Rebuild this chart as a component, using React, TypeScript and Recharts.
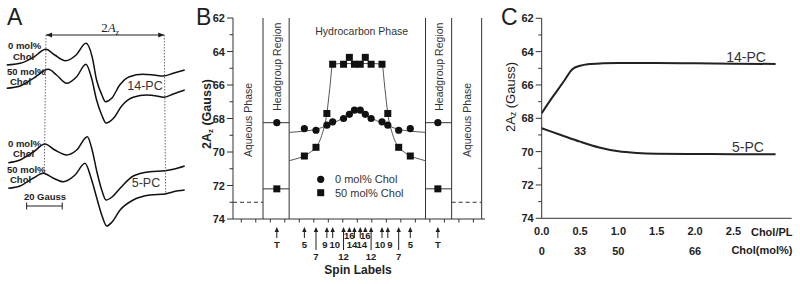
import React from "react";
import { ComposedChart, LineChart, Line, Scatter, XAxis, YAxis, ReferenceLine, ReferenceDot } from "recharts";

// ---------- Panel A: EPR spectra (field in Gauss, amplitude in a.u.) ----------
const field14_0 = [0, 7.5, 15, 22, 27, 33, 39, 44.5, 48, 50.5, 53.5, 55.5, 59, 63.5, 69, 76.5, 82.5, 88, 93.5, 100];
const amp14_0 = [0, 1.7, 7.7, 15.7, 10, 4.3, 10, 21.7, 8.3, -15, -30, -36.7, -33.3, -20, -11.7, -9.3, -10, -11, -8.3, -5];
const field14_50 = [0, 7.5, 15, 23.4, 28, 33.7, 39.3, 44.5, 47.7, 50.5, 53.4, 55.8, 60, 64.6, 71.1, 78.7, 84.3, 88, 93.6, 100];
const amp14_50 = [0, 2.3, 10, 19, 13.3, 5, 11.6, 24, 10, -11.7, -26.7, -34.7, -30, -17.7, -9, -6.7, -7.7, -9, -5.7, -1.7];
const field5_0 = [0.9, 7.5, 15, 21.5, 27, 33.7, 39.3, 45.3, 48, 50.7, 53.4, 55.8, 59.2, 63.7, 71.1, 80.5, 89, 93.6, 100];
const amp5_0 = [0, 2.7, 10.7, 18.7, 12.7, 7.7, 12.7, 26, 12.7, -9.3, -27.3, -37.3, -34.3, -25.6, -13.3, -9, -8, -6.6, -3.3];
const field5_50 = [0.9, 7.5, 15, 20.6, 26, 31.8, 38.4, 44, 47.4, 50.6, 53.4, 56.2, 59.2, 63.7, 71.1, 80.5, 89, 93.6, 100];
const amp5_50 = [0, 2.3, 10.3, 15, 10.3, 6.6, 13.3, 25, 10.3, -9.7, -26.7, -37.7, -33.7, -21.7, -11.7, -6.7, -5.7, -3.4, -1.7];
const splitting = [22.1, 88.5]; // 2Az read-out positions (G)
const scaleBar = [11.2, 31.2]; // 20 Gauss

// ---------- Panel B: 2Az vs spin label position ----------
const spinPos = [2.45, 4.35, 5.15, 5.9, 6.3, 7.05, 7.45, 7.8, 8.2, 8.55, 8.95, 9.7, 10.1, 10.85, 11.65, 13.55];
const spinNames = ["T", "5", "7", "9", "10", "12", "16", "14", "14", "16", "12", "10", "9", "7", "5", "T"];
const az0 = [68.25, 68.6, 68.7, 68.4, 68.2, 68.0, 67.75, 67.5, 67.5, 67.75, 68.0, 68.2, 68.4, 68.7, 68.6, 68.25];
const az50 = [72.2, 70.24, 69.72, 67.7, 64.76, 64.76, 64.35, 64.76, 64.76, 64.35, 64.76, 64.76, 67.7, 69.72, 70.24, 72.2];
const fitPos0 = [3.3, 4.35, 5.15, 5.9, 6.3, 7.05, 7.45, 7.8, 8.0, 8.2, 8.55, 8.95, 9.7, 10.1, 10.85, 11.65, 12.7];
const fitAz0 = [68.83, 68.75, 68.65, 68.42, 68.27, 67.97, 67.77, 67.6, 67.55, 67.6, 67.77, 67.97, 68.27, 68.42, 68.65, 68.75, 68.83];
const fitPos50 = [3.3, 4.0, 4.35, 4.75, 5.15, 5.55, 5.9, 6.1, 6.3, 7.0, 8.0, 9.0, 9.7, 9.9, 10.1, 10.45, 10.85, 11.25, 11.65, 12.0, 12.7];
const fitAz50 = [70.52, 70.35, 70.24, 70.02, 69.72, 69.0, 67.7, 66.2, 64.76, 64.72, 64.72, 64.72, 64.76, 66.2, 67.7, 69.0, 69.72, 70.02, 70.24, 70.35, 70.52];
const regionEdges = [1.5, 3.3, 12.7, 14.5, 16.57];
const aqueousAz = 73.0;
const posTicks = [0, 1, 2, 3, 4, 5, 6, 7, 8, 9, 10, 11, 12, 13, 14, 15, 16];
const azTicks = [62, 63, 64, 65, 66, 67, 68, 69, 70, 71, 72, 73, 74];

// ---------- Panel C: 2Az vs cholesterol ----------
const ratio14 = [0, 0.1, 0.2, 0.3, 0.4, 0.5, 0.6, 0.8, 1.0, 1.5, 2.0, 2.5, 3.05];
const az14 = [67.7, 67.0, 66.35, 65.7, 65.05, 64.85, 64.75, 64.7, 64.68, 64.68, 64.7, 64.72, 64.74];
const ratio5 = [0, 0.25, 0.5, 0.75, 1.0, 1.25, 1.5, 2.0, 2.5, 3.05];
const az5 = [68.6, 69.0, 69.4, 69.75, 69.98, 70.08, 70.12, 70.14, 70.15, 70.15];
const ratioTicks = [0, 0.5, 1, 1.5, 2, 2.5];
const molLabels = ["0", "33", "50", "", "66", ""];

// ---------- styles ----------
const FONT = "'Liberation Sans', Arial, sans-serif";
const INK = "#1e1e1e";
const STROKE = "#333";
const specOffset = [-65, -88.3, -162.7, -188.3];
const spinRow = { T: 1, "5": 1, "7": 2, "9": 1, "10": 1, "12": 2, "16": 0, "14": 1 } as Record<string, number>;
const spinLabelDx = [0, 0, 0, -2, 2, 0, 0, -2.5, 1.5, 0, 0, -2, 2, 0, 0, 0];
const B_DOMAIN: [number, number] = [-0.57, 16.8];

const pts = (xs: number[], ys: number[], off = 0) => xs.map((x, i) => ({ x, y: ys[i] + off }));

const AzTick = (props: any) => {
  const { x, y, payload } = props;
  const v = payload.value;
  const major = v % 2 === 0;
  return (
    <g>
      <line x1={x - (major ? 6 : 3.5)} x2={x} y1={y} y2={y} stroke={STROKE} />
      {major && (
        <text x={x - 8} y={y + 4} textAnchor="end" fontSize={11} fontWeight="bold" fill={INK} fontFamily={FONT}>
          {v}
        </text>
      )}
    </g>
  );
};

const PosTick = (props: any) => {
  const { x, y } = props;
  return <line x1={x} x2={x} y1={y} y2={y + 3.5} stroke={STROKE} />;
};

const SpinTick = (props: any) => {
  const { x, y, payload } = props;
  const i = spinPos.indexOf(payload.value);
  if (i < 0) return <g />;
  const name = spinNames[i];
  const row = spinRow[name];
  const shaft = [4.5, 11, 23][row];
  const base = [11.5, 21, 33][row];
  return (
    <g>
      <path d={`M${x},${y} L${x - 2.2},${y + 5} L${x + 2.2},${y + 5} Z`} fill={INK} />
      <line x1={x} x2={x} y1={y + 4} y2={y + shaft} stroke={INK} strokeWidth={1} />
      <text x={x + spinLabelDx[i]} y={y + base} textAnchor="middle" fontSize={9.5} fontWeight="bold" fill={INK} fontFamily={FONT}>
        {name}
      </text>
    </g>
  );
};

const RatioTick = (props: any) => {
  const { x, y, payload } = props;
  const i = ratioTicks.indexOf(payload.value);
  return (
    <g fontFamily={FONT} fontSize={11} fontWeight="bold" fill={INK}>
      <text x={x} y={y + 17} textAnchor="middle">{payload.value.toFixed(1)}</text>
      <text x={x} y={y + 37} textAnchor="middle">{i >= 0 ? molLabels[i] : ""}</text>
    </g>
  );
};

const ArrowHead = (dir: number) => (p: any) => (
  <path d={`M${p.cx},${p.cy} L${p.cx - dir * 6},${p.cy - 2.5} L${p.cx - dir * 6},${p.cy + 2.5} Z`} fill={INK} />
);

const PanelA = () => (
  <LineChart width={800} height={284} margin={{ top: 0, right: 610, bottom: 0, left: 0 }}>
    <XAxis type="number" dataKey="x" domain={[-3.76, 102.98]} hide />
    <YAxis type="number" dataKey="y" domain={[-284, 0]} hide />
    {[
      [field14_0, amp14_0],
      [field14_50, amp14_50],
      [field5_0, amp5_0],
      [field5_50, amp5_50],
    ].map(([f, a], k) => (
      <Line key={k} data={pts(f, a, specOffset[k])} dataKey="y" type="monotone" stroke="#111" strokeWidth={1.5} dot={false} isAnimationActive={false} />
    ))}
    <ReferenceLine segment={[{ x: splitting[0], y: -35 }, { x: splitting[0] - 1, y: -173 }]} stroke="#444" strokeDasharray="1.5 1.5" strokeWidth={0.8} />
    <ReferenceLine segment={[{ x: splitting[1], y: -35 }, { x: splitting[1] + 0.8, y: -195 }]} stroke="#444" strokeDasharray="1.5 1.5" strokeWidth={0.8} />
    <ReferenceLine segment={[{ x: splitting[0], y: -35 }, { x: splitting[1], y: -35 }]} stroke={INK} strokeWidth={1} />
    <ReferenceDot x={splitting[0]} y={-35} shape={ArrowHead(-1)} />
    <ReferenceDot x={splitting[1]} y={-35} shape={ArrowHead(1)} />
    <ReferenceLine segment={[{ x: scaleBar[0], y: -206 }, { x: scaleBar[1], y: -206 }]} stroke={INK} strokeWidth={1} />
    <ReferenceLine segment={[{ x: scaleBar[0], y: -202.5 }, { x: scaleBar[0], y: -209.5 }]} stroke={INK} strokeWidth={1} />
    <ReferenceLine segment={[{ x: scaleBar[1], y: -202.5 }, { x: scaleBar[1], y: -209.5 }]} stroke={INK} strokeWidth={1} />
  </LineChart>
);

const PanelB = () => (
  <ComposedChart width={800} height={284} margin={{ top: 18, right: 315, bottom: 17, left: 203 }}>
    <XAxis type="number" dataKey="x" domain={B_DOMAIN} ticks={posTicks} interval={0} tickLine={false} tickSize={0} tickMargin={0} tick={<PosTick />} height={8} stroke={STROKE} />
    <XAxis
      xAxisId="spin"
      type="number"
      dataKey="x"
      domain={B_DOMAIN}
      ticks={spinPos}
      interval={0}
      axisLine={false}
      tickLine={false}
      tickSize={0}
      tickMargin={0}
      height={40}
      tick={<SpinTick />}
    />
    <YAxis type="number" dataKey="y" domain={[62, 74]} reversed ticks={azTicks} interval={0} width={30} tickLine={false} tickSize={0} tickMargin={0} tick={<AzTick />} stroke={STROKE} />
    {regionEdges.map((e) => (
      <ReferenceLine key={e} x={e} stroke={STROKE} strokeWidth={1} />
    ))}
    <ReferenceLine segment={[{ x: regionEdges[0], y: az0[0] }, { x: regionEdges[1], y: az0[0] }]} stroke={STROKE} />
    <ReferenceLine segment={[{ x: regionEdges[0], y: az50[0] }, { x: regionEdges[1], y: az50[0] }]} stroke={STROKE} />
    <ReferenceLine segment={[{ x: regionEdges[2], y: az0[15] }, { x: regionEdges[3], y: az0[15] }]} stroke={STROKE} />
    <ReferenceLine segment={[{ x: regionEdges[2], y: az50[15] }, { x: regionEdges[3], y: az50[15] }]} stroke={STROKE} />
    <ReferenceLine segment={[{ x: B_DOMAIN[0], y: aqueousAz }, { x: regionEdges[0], y: aqueousAz }]} stroke={STROKE} strokeDasharray="4 3" />
    <ReferenceLine segment={[{ x: regionEdges[3], y: aqueousAz }, { x: regionEdges[4], y: aqueousAz }]} stroke={STROKE} strokeDasharray="4 3" />
    <Line data={pts(fitPos0, fitAz0)} dataKey="y" type="monotone" stroke="#555" strokeWidth={1} dot={false} isAnimationActive={false} />
    <Line data={pts(fitPos50, fitAz50)} dataKey="y" type="monotone" stroke="#555" strokeWidth={1} dot={false} isAnimationActive={false} />
    <Scatter xAxisId="spin" data={pts(spinPos, az0)} dataKey="y" isAnimationActive={false} shape={(p: any) => <circle cx={p.cx} cy={p.cy} r={3.6} fill="#111" />} />
    <Scatter xAxisId="spin" data={pts(spinPos, az50)} dataKey="y" isAnimationActive={false} shape={(p: any) => <rect x={p.cx - 3.5} y={p.cy - 3.5} width={7} height={7} fill="#111" />} />
  </ComposedChart>
);

const PanelC = () => (
  <LineChart width={800} height={284} margin={{ top: 18.3, right: 8.3, bottom: 20.7, left: 516.7 }}>
    <XAxis type="number" dataKey="x" domain={[0, 3.26]} ticks={ratioTicks} interval={0} tickLine={false} tickSize={0} tickMargin={0} height={45} tick={<RatioTick />} stroke={STROKE} />
    <YAxis type="number" dataKey="y" domain={[62, 74]} reversed ticks={azTicks} interval={0} width={25} tickLine={false} tickSize={0} tickMargin={0} tick={<AzTick />} stroke={STROKE} />
    <Line data={pts(ratio14, az14)} dataKey="y" type="monotone" stroke="#222" strokeWidth={2} dot={false} isAnimationActive={false} />
    <Line data={pts(ratio5, az5)} dataKey="y" type="monotone" stroke="#222" strokeWidth={2} dot={false} isAnimationActive={false} />
  </LineChart>
);

const Overlay = () => (
  <svg width={800} height={284} style={{ position: "absolute", left: 0, top: 0, pointerEvents: "none" }} fontFamily={FONT} fill={INK}>
    <text x={7} y={25} fontSize={23}>A</text>
    <text x={196} y={25} fontSize={23}>B</text>
    <text x={501} y={25} fontSize={23}>C</text>

    {/* panel A */}
    <text x={110} y={32} textAnchor="middle" fontFamily="'Liberation Serif', serif" fontSize={13}>
      2<tspan fontStyle="italic">A</tspan>
      <tspan fontSize={8} dy={3} fontStyle="italic">z</tspan>
    </text>
    <g fontSize={9.5} fontWeight="bold">
      <text x={8} y={48.5}>0 mol%</text>
      <text x={13} y={59.5}>Chol</text>
      <text x={7} y={74.5}>50 mol%</text>
      <text x={10} y={84.5}>Chol</text>
      <text x={8} y={146.5}>0 mol%</text>
      <text x={13} y={157}>Chol</text>
      <text x={7} y={172.5}>50 mol%</text>
      <text x={10} y={182.5}>Chol</text>
      <text x={45} y={199.5} textAnchor="middle">20 Gauss</text>
    </g>
    <text x={145} y={89.5} textAnchor="middle" fontSize={12.5} fill="#333">14-PC</text>
    <text x={146} y={187} textAnchor="middle" fontSize={12.5} fill="#333">5-PC</text>

    {/* panel B */}
    <text transform="translate(207,114) rotate(-90)" textAnchor="middle" dominantBaseline="central" fontSize={12.5} fontWeight="bold">
      2A<tspan fontSize={8} dy={3}>z</tspan>
      <tspan dy={-3}> (Gauss)</tspan>
    </text>
    <text x={361.7} y={35} textAnchor="middle" fontSize={10.5} fill="#333">Hydrocarbon Phase</text>
    <g fontSize={10.5} fill="#333">
      <text transform="translate(277.3,66.7) rotate(-90)" textAnchor="middle" dominantBaseline="central">Headgroup Region</text>
      <text transform="translate(439.3,66.7) rotate(-90)" textAnchor="middle" dominantBaseline="central">Headgroup Region</text>
      <text transform="translate(248.3,120) rotate(-90)" textAnchor="middle" dominantBaseline="central">Aqueous Phase</text>
      <text transform="translate(466.7,120) rotate(-90)" textAnchor="middle" dominantBaseline="central">Aqueous Phase</text>
    </g>
    <circle cx={320.7} cy={179.3} r={3.6} fill="#111" />
    <rect x={317.2} y={189.2} width={7} height={7} fill="#111" />
    <text x={335} y={183.3} fontSize={11} fill="#333">0 mol% Chol</text>
    <text x={335} y={196.7} fontSize={11} fill="#333">50 mol% Chol</text>
    <text x={358} y={274} textAnchor="middle" fontSize={12} fontWeight="bold">Spin Labels</text>

    {/* panel C */}
    <text transform="translate(510,97) rotate(-90)" textAnchor="middle" dominantBaseline="central" fontSize={13}>
      2A<tspan fontSize={8.5} dy={3}>z</tspan>
      <tspan dy={-3}> (Gauss)</tspan>
    </text>
    <text x={746} y={62} textAnchor="middle" fontSize={14} fill="#333">14-PC</text>
    <text x={748} y={152} textAnchor="middle" fontSize={14} fill="#333">5-PC</text>
    <g fontSize={11} fontWeight="bold">
      <text x={792.5} y={235.5} textAnchor="end">Chol/PL</text>
      <text x={792.5} y={253.5} textAnchor="end">Chol(mol%)</text>
    </g>
  </svg>
);

export default function App() {
  return (
    <div style={{ position: "absolute", left: 0, top: 0, width: 800, height: 284, background: "#fff", fontFamily: FONT }}>
      <div style={{ position: "absolute", left: 0, top: 0 }}><PanelA /></div>
      <div style={{ position: "absolute", left: 0, top: 0 }}><PanelB /></div>
      <div style={{ position: "absolute", left: 0, top: 0 }}><PanelC /></div>
      <Overlay />
    </div>
  );
}
